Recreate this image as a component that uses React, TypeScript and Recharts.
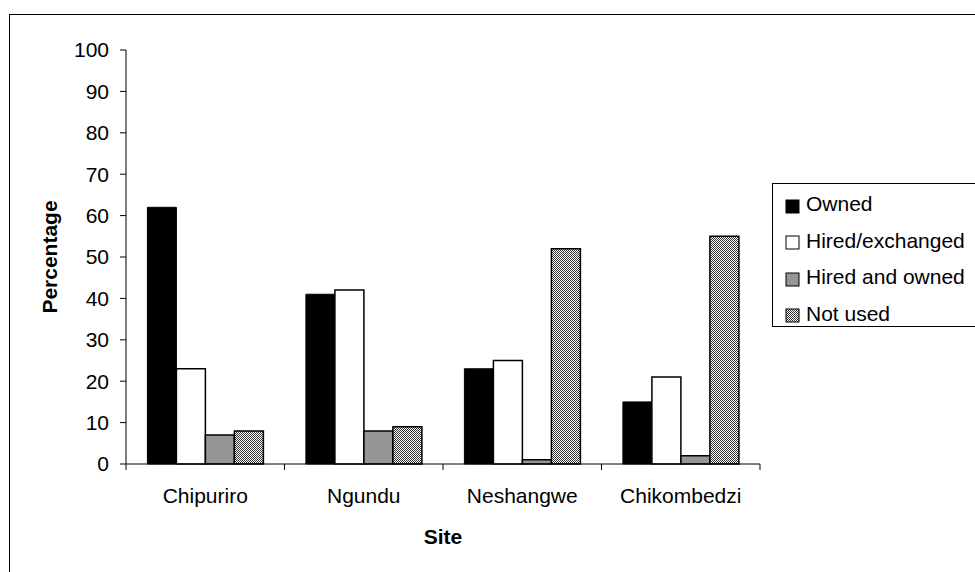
import { Bar, BarChart, Legend, XAxis, YAxis } from 'recharts';

const sites = ['Chipuriro', 'Ngundu', 'Neshangwe', 'Chikombedzi'];
const owned = [62, 41, 23, 15];
const hiredExchanged = [23, 42, 25, 21];
const hiredAndOwned = [7, 8, 1, 2];
const notUsed = [8, 9, 52, 55];
const yTicks = [0, 10, 20, 30, 40, 50, 60, 70, 80, 90, 100];

const seriesNames = ['Owned', 'Hired/exchanged', 'Hired and owned', 'Not used'];

const data = sites.map((site, i) => ({
  site,
  owned: owned[i],
  hiredExchanged: hiredExchanged[i],
  hiredAndOwned: hiredAndOwned[i],
  notUsed: notUsed[i]
}));

const FONT = '"Liberation Sans", Arial, sans-serif';
const FS = 21;

function SiteTick(props: any) {
  const { x, y, payload, index, visibleTicksCount } = props;
  const half = payload.offset ?? 0;
  const isLast = index === visibleTicksCount - 1;
  return (
    <g>
      <line x1={x - half} x2={x - half} y1={y} y2={y + 6} stroke="#000" strokeWidth={1} />
      {isLast && <line x1={x + half} x2={x + half} y1={y} y2={y + 6} stroke="#000" strokeWidth={1} />}
      <text x={x} y={y + 39} textAnchor="middle" fontSize={FS} fill="#000" fontFamily={FONT}>
        {payload.value}
      </text>
    </g>
  );
}

function swatch(key: string) {
  if (key === 'notUsed') return 'url(#hatch)';
  if (key === 'hiredAndOwned') return '#969696';
  if (key === 'hiredExchanged') return '#fff';
  return '#000';
}

function LegendBox(props: any) {
  const items = [...(props.payload ?? [])].sort(
    (a: any, b: any) => seriesNames.indexOf(a.value) - seriesNames.indexOf(b.value)
  );
  return (
    <div
      style={{
        border: '1px solid #000',
        width: 240,
        height: 144,
        boxSizing: 'border-box',
        paddingTop: 2,
        paddingLeft: 12,
        fontFamily: FONT,
        fontSize: FS,
        background: '#fff'
      }}
    >
      {items.map((item: any) => (
        <div key={item.value} style={{ display: 'flex', alignItems: 'center', height: 36.5 }}>
          <svg width={17} height={17} style={{ marginRight: 4, marginTop: 4 }}>
            <rect x={1} y={2} width={13} height={13} fill={swatch(item.dataKey)} stroke="#000" strokeWidth={1} />
          </svg>
          <span>{item.value}</span>
        </div>
      ))}
    </div>
  );
}

export default function App() {
  return (
    <div
      style={{
        position: 'absolute',
        left: 0,
        top: 0,
        width: 975,
        height: 572,
        overflow: 'hidden',
        background: '#fff'
      }}
    >
      <div
        style={{
          position: 'absolute',
          left: 9,
          top: 14,
          width: 1000,
          height: 600,
          borderLeft: '1.5px solid #000',
          borderTop: '1.5px solid #000'
        }}
      />
      <div style={{ position: 'absolute', left: 0, top: 0 }}>
        <BarChart
          width={975}
          height={572}
          data={data}
          margin={{ top: 50, right: 215, bottom: 28, left: 66 }}
          barCategoryGap="13.5%"
          barGap={0}
        >
          <defs>
            <pattern id="hatch" width={2} height={2} patternUnits="userSpaceOnUse">
              <rect width={2} height={2} fill="#fff" />
              <rect x={0} y={0} width={1} height={1} fill="#333" />
              <rect x={1} y={1} width={1} height={1} fill="#333" />
            </pattern>
          </defs>
          <XAxis
            dataKey="site"
            axisLine={{ stroke: '#000', strokeWidth: 1 }}
            tickLine={false}
            tickSize={0}
            tickMargin={0}
            tick={<SiteTick />}
            height={80}
            interval={0}
            label={{
              content: (p: any) => {
                const vb = p.viewBox;
                return (
                  <text
                    x={vb.x + vb.width / 2}
                    y={544}
                    textAnchor="middle"
                    fontSize={FS}
                    fontWeight="bold"
                    fill="#000"
                    fontFamily={FONT}
                  >
                    Site
                  </text>
                );
              }
            }}
          />
          <YAxis
            domain={[0, 100]}
            ticks={yTicks}
            interval={0}
            width={60}
            axisLine={{ stroke: '#000', strokeWidth: 1 }}
            tickLine={{ stroke: '#000', strokeWidth: 1 }}
            tickSize={6}
            tickMargin={11}
            tick={{ fontSize: FS, fill: '#000', fontFamily: FONT }}
            label={{
              content: (p: any) => {
                const vb = p.viewBox;
                const cy = vb.y + vb.height / 2;
                return (
                  <text
                    x={50}
                    y={cy}
                    dy={7}
                    transform={`rotate(-90, 50, ${cy})`}
                    textAnchor="middle"
                    fontSize={FS}
                    fontWeight="bold"
                    fill="#000"
                    fontFamily={FONT}
                  >
                    Percentage
                  </text>
                );
              }
            }}
          />
          <Legend
            layout="vertical"
            align="center"
            verticalAlign="middle"
            content={<LegendBox />}
            wrapperStyle={{ position: 'absolute', left: 772, top: 183, width: 240, right: 'auto', bottom: 'auto' }}
          />
          <Bar dataKey="owned" name={seriesNames[0]} fill="#000" stroke="#000" strokeWidth={1} isAnimationActive={false} />
          <Bar dataKey="hiredExchanged" name={seriesNames[1]} fill="#fff" stroke="#000" strokeWidth={1.5} isAnimationActive={false} />
          <Bar dataKey="hiredAndOwned" name={seriesNames[2]} fill="#969696" stroke="#000" strokeWidth={1.5} isAnimationActive={false} />
          <Bar dataKey="notUsed" name={seriesNames[3]} fill="url(#hatch)" stroke="#000" strokeWidth={1.5} isAnimationActive={false} />
        </BarChart>
      </div>
    </div>
  );
}
